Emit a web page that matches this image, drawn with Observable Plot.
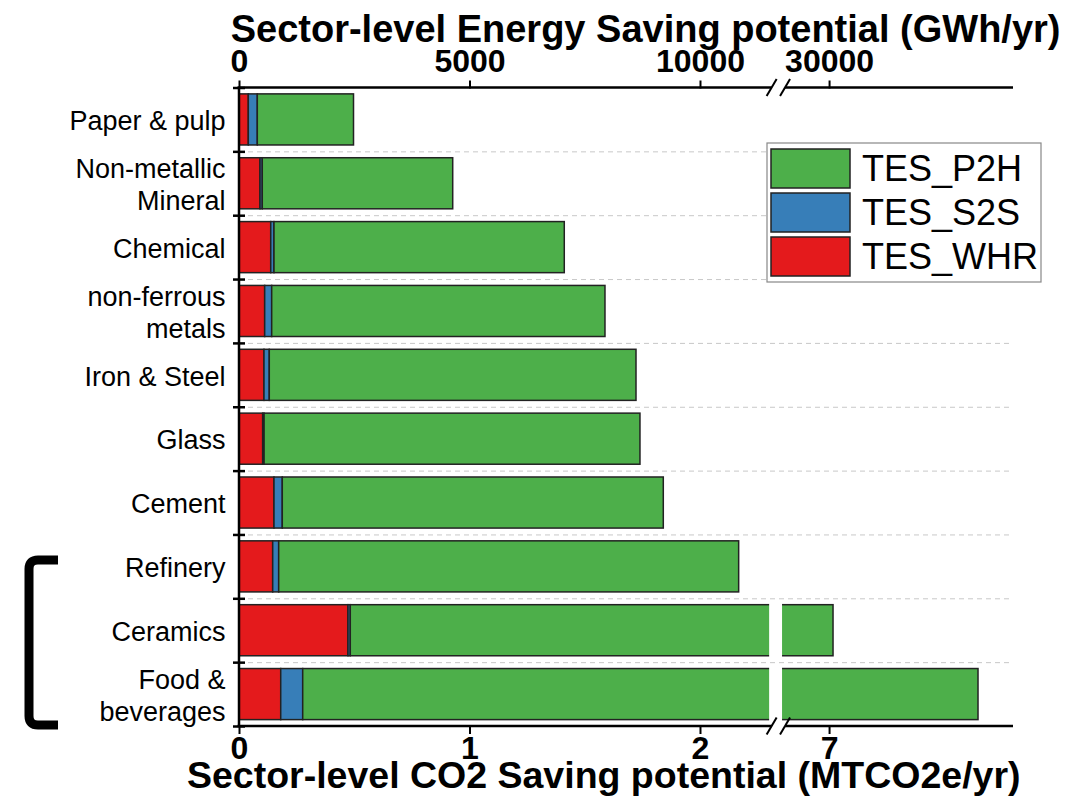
<!DOCTYPE html>
<html><head><meta charset="utf-8">
<script src="https://cdn.jsdelivr.net/npm/d3@7"></script>
<script src="https://cdn.jsdelivr.net/npm/@observablehq/plot@0.6"></script>
<style>html,body{margin:0;padding:0;background:#fff;} #chart{position:relative;width:1087px;height:802px;}</style>
</head><body><div id="chart"></div>
<script>
// ---- data (GWh/yr) ----
const sectors = ["Paper & pulp","Non-metallic\nMineral","Chemical","non-ferrous\nmetals","Iron & Steel","Glass","Cement","Refinery","Ceramics","Food &\nbeverages"];
const tesWHR = [202, 456, 688, 557, 542, 514, 759, 731, 2364, 905];
const tesS2S = [195, 49, 71, 152, 115, 30, 180, 130, 50, 477];
const tesP2H = [2087, 4131, 6297, 7230, 7955, 8154, 8265, 9978, 27672, 31849];
const seriesNames = ["TES_WHR", "TES_S2S", "TES_P2H"];
const seriesColors = ["#e41a1c", "#377eb8", "#4daf4a"];
const energyTicks = [0, 5000, 10000, 30000];
const energyTickLabels = ["0", "5000", "10000", "30000"];
const co2TickLabels = ["0", "1", "2", "7"];
const topTitle = "Sector-level Energy Saving potential (GWh/yr)";
const bottomTitle = "Sector-level CO2 Saving potential (MTCO2e/yr)";

// ---- broken axis mapping ----
const breakLo = 11500, breakHi = 28980, gapEnd = 11780, xMax = 16790;
const toDisplay = v => v <= breakLo ? v : (v >= breakHi ? gapEnd + (v - breakHi) : breakLo);

const seriesVals = [tesWHR, tesS2S, tesP2H];
const rows = [];
sectors.forEach((s, i) => {
  let c = 0;
  seriesNames.forEach((n, k) => {
    const v = seriesVals[k][i];
    rows.push({i, sector: s, series: n, x1: c, x2: c + v});
    c += v;
  });
});
const totals = sectors.map((s, i) => tesWHR[i] + tesS2S[i] + tesP2H[i]);
const brokenIdx = d3.range(sectors.length).filter(i => totals[i] > breakLo);

const tickPos = energyTicks.map(toDisplay);
const eLab = new Map(tickPos.map((p, i) => [p, energyTickLabels[i]]));
const cLab = new Map(tickPos.map((p, i) => [p, co2TickLabels[i]]));
const FONT = "'Liberation Sans', Arial, sans-serif";

const plot = Plot.plot({
  width: 1087, height: 802,
  marginLeft: 239, marginRight: 74, marginTop: 87.5, marginBottom: 76,
  style: {fontFamily: FONT, color: "black", background: "white", overflow: "visible"},
  x: {domain: [0, xMax]},
  y: {domain: [sectors.length - 0.5, -0.5]},
  color: {domain: seriesNames, range: seriesColors},
  marks: [
    Plot.ruleY(d3.range(0.5, sectors.length - 1, 1), {stroke: "#c8c8c8", strokeWidth: 1, strokeDasharray: "5,4"}),
    Plot.rect(rows, {x1: d => toDisplay(d.x1), x2: d => toDisplay(d.x2), y1: d => d.i - 0.4, y2: d => d.i + 0.4,
      fill: "series", stroke: "#222", strokeWidth: 1.5}),
    Plot.rect(brokenIdx, {x1: () => breakLo, x2: () => gapEnd, y1: i => i - 0.43, y2: i => i + 0.43, fill: "white"}),
    Plot.ruleX([0], {stroke: "black", strokeWidth: 2.5, dx: -0.5}),
    Plot.axisY({ticks: d3.range(-0.5, sectors.length, 1), tickSize: 12, dx: 6, tickFormat: () => "", strokeWidth: 2.5, label: null}),
    Plot.axisY({ticks: d3.range(sectors.length), tickSize: 0, tickPadding: 14, tickFormat: i => sectors[i],
      fontSize: 27, lineHeight: 1.18, label: null}),
    Plot.axisX({anchor: "top", ticks: tickPos, tickFormat: d => eLab.get(d), tickSize: 8, tickPadding: 8,
      fontSize: 32, fontWeight: "bold", strokeWidth: 2, label: null}),
    Plot.axisX({anchor: "bottom", ticks: tickPos, tickFormat: d => cLab.get(d), tickSize: 8, tickPadding: 2,
      fontSize: 32, fontWeight: "bold", strokeWidth: 2, label: null}),
    Plot.text([topTitle], {frameAnchor: "top-right", text: d => d, dx: 47, dy: -73, textAnchor: "end",
      fontSize: 38, fontWeight: "bold"}),
    Plot.text([bottomTitle], {frameAnchor: "bottom-right", text: d => d, dx: 7, dy: 61, textAnchor: "end",
      fontSize: 37.5, fontWeight: "bold"})
  ]
});
document.getElementById("chart").appendChild(plot);

// ---- decorations: axis lines with break marks, legend, bracket ----
const svg = d3.select(plot);
const X = plot.scale("x"), Y = plot.scale("y");
const yTop = Y.apply(-0.5), yBot = Y.apply(sectors.length - 0.5);
const xl = X.apply(0) - 1.5, xr = X.apply(xMax);
const xa = X.apply(breakLo) + 2.5, xb = X.apply(gapEnd) + 3;
const deco = svg.append("g").attr("stroke", "black").attr("fill", "none");
for (const yy of [yTop, yBot]) {
  deco.append("line").attr("x1", xl).attr("x2", xa).attr("y1", yy).attr("y2", yy).attr("stroke-width", 2.5);
  deco.append("line").attr("x1", xb).attr("x2", xr).attr("y1", yy).attr("y2", yy).attr("stroke-width", 2.5);
  for (const xx of [xa, xb]) {
    deco.append("line").attr("x1", xx - 5).attr("x2", xx + 5).attr("y1", yy + 8.5).attr("y2", yy - 8.5).attr("stroke-width", 2);
  }
}
// legend
const lg = svg.append("g").attr("font-family", FONT).attr("text-anchor", "start");
lg.append("rect").attr("x", 767).attr("y", 143).attr("width", 274).attr("height", 139)
  .attr("fill", "white").attr("stroke", "#888").attr("stroke-width", 1.2);
const legendOrder = seriesNames.map((n, k) => ({n, c: seriesColors[k]})).reverse();
legendOrder.forEach((e, k) => {
  lg.append("rect").attr("x", 771).attr("y", 149 + k * 44).attr("width", 79).attr("height", 39)
    .attr("fill", e.c).attr("stroke", "#222").attr("stroke-width", 1.5);
  lg.append("text").attr("x", 862).attr("y", 181 + k * 44).attr("font-size", 36).attr("fill", "black")
    .attr("text-anchor", "start").text(e.n);
});
// bracket
svg.append("path").attr("d", "M58,560 H38 Q29,560 29,569 V716 Q29,725 38,725 H58")
  .attr("fill", "none").attr("stroke", "black").attr("stroke-width", 9);
</script>
</body></html>
